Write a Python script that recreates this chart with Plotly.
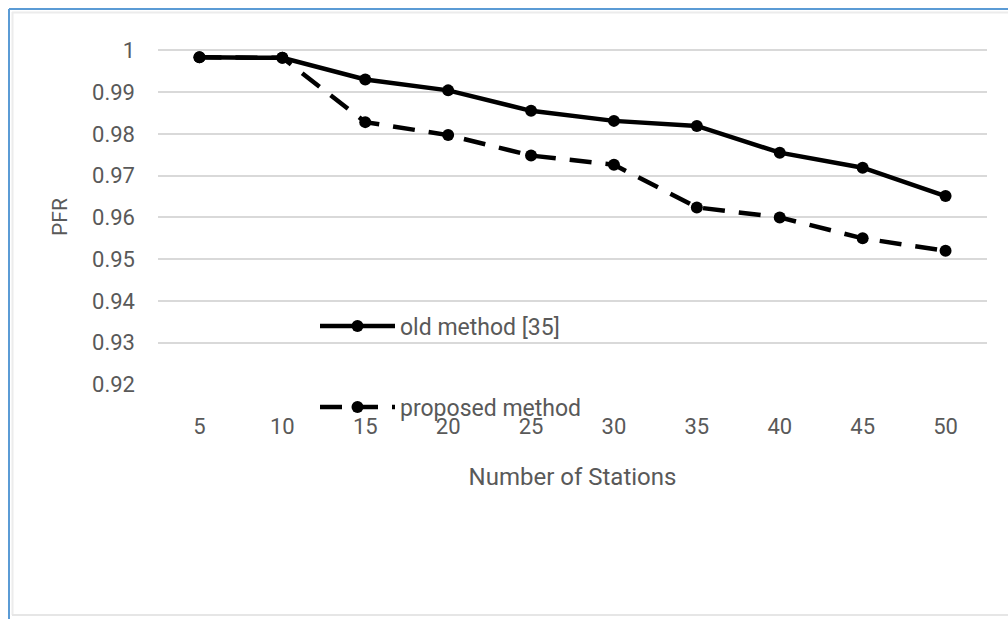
import plotly.graph_objects as go

# Packet forwarding ratio versus number of stations
stations = [5, 10, 15, 20, 25, 30, 35, 40, 45, 50]
old_method = [0.9983, 0.9982, 0.9930, 0.9904, 0.9855, 0.9831, 0.9819, 0.9755, 0.9719, 0.9651]
proposed_method = [0.9983, 0.9982, 0.9828, 0.9797, 0.9748, 0.9726, 0.9624, 0.9600, 0.9550, 0.9520]
y_ticks = [0.92, 0.93, 0.94, 0.95, 0.96, 0.97, 0.98, 0.99, 1]
y_tick_text = ["0.92", "0.93", "0.94", "0.95", "0.96", "0.97", "0.98", "0.99", "1"]

W, H = 1008, 619
ML, MR, MT, MB = 158, 21, 49, 234
PW, PH = W - ML - MR, H - MT - MB

FONT = "Roboto, Open Sans, sans-serif"
GREY = "#595959"


def px_x(p):
    return (p - ML) / PW


def px_y(p):
    return (H - MB - p) / PH


fig = go.Figure()
fig.add_trace(go.Scatter(
    x=stations, y=old_method, name="old method [35]", mode="lines+markers",
    line=dict(color="black", width=4.5),
    marker=dict(symbol="circle", size=12, color="black"),
    legend="legend", showlegend=True,
))
fig.add_trace(go.Scatter(
    x=stations, y=proposed_method, name="proposed method", mode="lines+markers",
    line=dict(color="black", width=4.5, dash="22px,14px"),
    marker=dict(symbol="circle", size=12, color="black"),
    legend="legend2", showlegend=True,
))

legend_common = dict(
    bgcolor="rgba(0,0,0,0)", font=dict(family=FONT, size=23, color=GREY),
    xanchor="left", yanchor="middle", itemwidth=75, visible=True,
)

fig.update_layout(
    width=W, height=H,
    margin=dict(l=ML, r=MR, t=MT, b=MB),
    paper_bgcolor="white", plot_bgcolor="white",
    font=dict(family=FONT, size=22, color=GREY),
    showlegend=True,
    legend=dict(x=px_x(315), y=px_y(326), **legend_common),
    legend2=dict(x=px_x(315), y=px_y(407), **legend_common),
    xaxis=dict(
        range=[2.5, 52.5], tickvals=stations, ticktext=[str(s) for s in stations],
        showgrid=False, zeroline=False, showline=False, ticks="",
        ticklabelstandoff=26,
        title=dict(text="Number of Stations", standoff=30,
                   font=dict(family=FONT, size=24, color=GREY)),
    ),
    yaxis=dict(
        range=[0.9199, 1.0003], tickvals=y_ticks, ticktext=y_tick_text,
        showgrid=True, gridcolor="#d9d9d9", gridwidth=2,
        zeroline=False, showline=False, ticks="",
        ticklabelstandoff=22,
        title=dict(text="PFR", standoff=18,
                   font=dict(family=FONT, size=21, color=GREY)),
    ),
    shapes=[
        # outer frame: blue left and top edges
        dict(type="line", xref="paper", yref="paper",
             x0=px_x(9), x1=px_x(9), y0=px_y(H + 5), y1=px_y(9),
             line=dict(color="#5b9bd5", width=2)),
        dict(type="line", xref="paper", yref="paper",
             x0=px_x(9), x1=px_x(W + 5), y0=px_y(9), y1=px_y(9),
             line=dict(color="#5b9bd5", width=2)),
        # soft inner edges
        dict(type="line", xref="paper", yref="paper",
             x0=px_x(12), x1=px_x(W + 5), y0=px_y(12.5), y1=px_y(12.5),
             line=dict(color="#ececec", width=2)),
        dict(type="line", xref="paper", yref="paper",
             x0=px_x(12.5), x1=px_x(12.5), y0=px_y(615), y1=px_y(12),
             line=dict(color="#ececec", width=2)),
        dict(type="line", xref="paper", yref="paper",
             x0=px_x(12), x1=px_x(W + 5), y0=px_y(615), y1=px_y(615),
             line=dict(color="#e6e6e6", width=2)),
    ],
)

fig.write_html("out.html")
